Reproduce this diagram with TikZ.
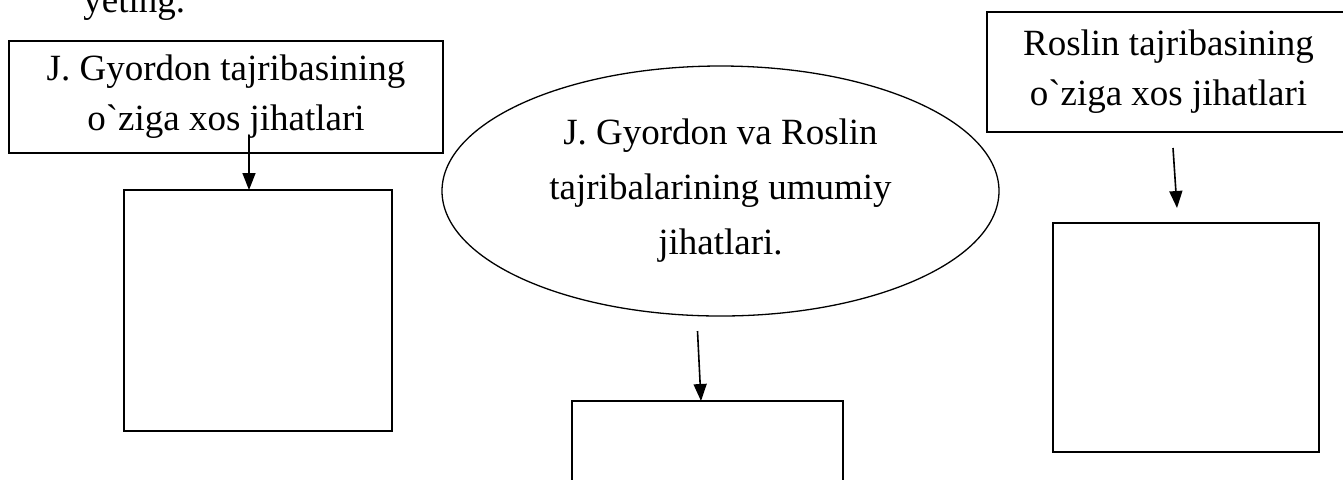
\documentclass[tikz,border=0pt]{standalone}
\usepackage{fontspec}
\setmainfont{Liberation Serif}[Ligatures=TeXOff]
\usetikzlibrary{shapes.geometric,arrows.meta,positioning}

\tikzset{
  frame/.style={draw,line width=0.8pt,inner sep=0pt,outer sep=0pt,align=center},
  oval/.style={draw,ellipse,line width=0.65pt,inner sep=0pt,outer sep=0pt,align=center},
  arr/.style={line width=0.8pt,-{Triangle[length=8.5pt,width=6.5pt]}}
}

\begin{document}
\begin{tikzpicture}[x=0.5pt,y=-0.5pt,font=\fontsize{18.5pt}{25pt}\selectfont]
	\useasboundingbox (0,0) rectangle (1343,479);
	\clip (0,0) rectangle (1343,479);

	\node[anchor=base west,inner sep=0pt] (task) at (83,12) {yeting.};

	\node[frame,minimum width=217pt,minimum height=56pt] (gyordon) at (226,97) {J. Gyordon tajribasining\\o`ziga xos jihatlari};
	\node[frame,minimum width=134pt,minimum height=120.5pt] (gyordonbox) at (258,310.5) {};

	\node[oval,minimum width=278.5pt,minimum height=125pt,font=\fontsize{18.5pt}{27.5pt}\selectfont] (common) at (720.5,191) {J. Gyordon va Roslin\\tajribalarining umumiy\\jihatlari.};
	\node[frame,minimum width=135.5pt,minimum height=49.5pt] (commonbox) at (707.5,450.5) {};

	\node[frame,minimum width=181.5pt,minimum height=60pt] (roslin) at (1168.5,72) {Roslin tajribasining\\o`ziga xos jihatlari};
	\node[frame,minimum width=133pt,minimum height=114.5pt] (roslinbox) at (1186,337.5) {};

	\coordinate (g1) at ([xshift=11.5pt,yshift=9pt]gyordon.south);
	\draw[arr] (g1) -- (g1 |- gyordonbox.north);
	\draw[arr] ([xshift=-11.5pt,yshift=-7.5pt]common.south) -- ([xshift=-3.25pt]commonbox.north);
	\draw[arr] ([xshift=2.25pt,yshift=-8pt]roslin.south) -- ([xshift=-4.5pt,yshift=7.5pt]roslinbox.north);
\end{tikzpicture}
\end{document}
